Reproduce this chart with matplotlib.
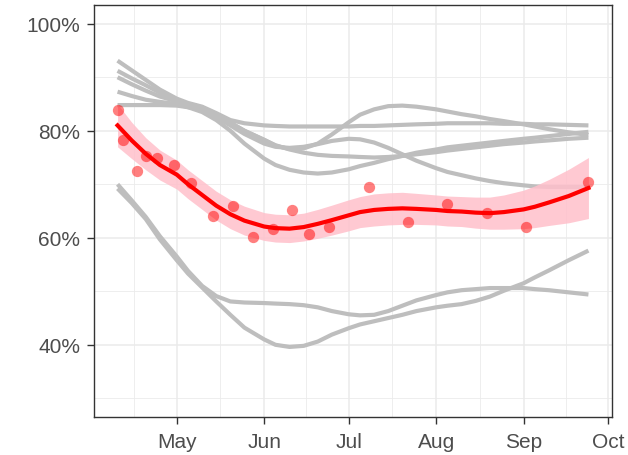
import numpy as np
import pandas as pd
import matplotlib
matplotlib.use("Agg")
import matplotlib.pyplot as plt
import matplotlib.dates as mdates
from matplotlib.ticker import FuncFormatter, FixedLocator

plt.rcParams['font.family'] = ['Liberation Sans', 'DejaVu Sans']

# observed share, red points
pt_dates = ["2020-04-10", "2020-04-12", "2020-04-17", "2020-04-20", "2020-04-24",
            "2020-04-30", "2020-05-06", "2020-05-14", "2020-05-21", "2020-05-28",
            "2020-06-04", "2020-06-11", "2020-06-17", "2020-06-24", "2020-07-08",
            "2020-07-22", "2020-08-05", "2020-08-19", "2020-09-02", "2020-09-24"]
pt_vals = [83.9, 78.3, 72.5, 75.3, 74.9, 73.6, 70.3, 64.1, 66.0, 60.1,
           61.7, 65.2, 60.7, 62.0, 69.4, 62.9, 66.3, 64.7, 62.0, 70.4]

# dates at which the smooth curves were read
curve_dates = ["2020-04-10", "2020-04-15", "2020-04-20", "2020-04-25", "2020-05-01",
               "2020-05-05", "2020-05-10", "2020-05-15", "2020-05-20", "2020-05-25",
               "2020-06-01", "2020-06-05", "2020-06-10", "2020-06-15", "2020-06-20",
               "2020-06-25", "2020-07-01", "2020-07-05", "2020-07-10", "2020-07-15",
               "2020-07-20", "2020-07-25", "2020-08-01", "2020-08-05", "2020-08-10",
               "2020-08-15", "2020-08-20", "2020-08-25", "2020-09-01", "2020-09-05",
               "2020-09-10", "2020-09-17", "2020-09-24"]

red_fit = [81.0, 78.2, 75.7, 73.6, 71.8, 70.0, 68.0, 66.0, 64.4, 63.2,
           62.1, 61.8, 61.7, 62.0, 62.6, 63.3, 64.2, 64.8, 65.2, 65.4,
           65.5, 65.4, 65.2, 65.0, 64.9, 64.7, 64.6, 64.8, 65.3, 65.8,
           66.6, 67.8, 69.3]
red_low = [77.0, 74.8, 72.7, 70.8, 69.1, 67.3, 65.3, 63.3, 61.7, 60.5,
           59.5, 59.2, 59.1, 59.4, 59.9, 60.5, 61.3, 61.9, 62.2, 62.4,
           62.5, 62.5, 62.4, 62.2, 62.1, 61.8, 61.6, 61.6, 61.7, 61.9,
           62.3, 62.8, 63.6]
red_high = [85.0, 81.6, 78.7, 76.4, 74.5, 72.7, 70.7, 68.7, 67.1, 65.9,
            64.7, 64.4, 64.3, 64.6, 65.3, 66.1, 67.1, 67.7, 68.2, 68.4,
            68.5, 68.3, 68.0, 67.8, 67.7, 67.6, 67.6, 68.0, 68.9, 69.7,
            70.9, 72.8, 75.0]

# other groups, grey curves
grey_1 = [93.1, 91.3, 89.5, 87.7, 86.0, 85.2, 84.5, 83.3, 82.0, 81.4,
          81.0, 80.9, 80.8, 80.8, 80.8, 80.8, 80.8, 80.9, 80.9, 81.0,
          81.1, 81.2, 81.3, 81.4, 81.4, 81.4, 81.4, 81.3, 81.3, 81.2,
          81.2, 81.1, 81.0]
grey_2 = [91.2, 89.8, 88.5, 87.1, 85.8, 85.0, 84.3, 83.0, 81.5, 80.0,
          78.3, 77.2, 76.6, 76.7, 77.6, 79.3, 81.6, 83.0, 84.0, 84.6,
          84.7, 84.5, 84.0, 83.6, 83.1, 82.7, 82.2, 81.8, 81.2, 80.8,
          80.3, 79.7, 79.2]
grey_3 = [90.0, 88.7, 87.5, 86.4, 85.5, 84.8, 84.0, 82.6, 81.0, 79.4,
          77.6, 77.0, 76.8, 77.0, 77.5, 78.1, 78.5, 78.4, 77.8, 76.8,
          75.6, 74.4, 73.0, 72.3, 71.7, 71.1, 70.6, 70.2, 69.8, 69.6,
          69.5, 69.5, 69.5]
grey_4 = [87.3, 86.5, 85.8, 85.4, 85.0, 84.4, 83.5, 82.0, 80.0, 77.6,
          74.8, 73.6, 72.7, 72.2, 72.0, 72.2, 72.8, 73.4, 74.0, 74.7,
          75.3, 75.9, 76.5, 76.9, 77.2, 77.5, 77.8, 78.1, 78.5, 78.7,
          79.0, 79.4, 79.8]
grey_5 = [84.8, 84.8, 84.8, 84.8, 84.7, 84.4, 84.0, 83.0, 81.5, 80.0,
          78.3, 77.3, 76.5, 75.9, 75.5, 75.3, 75.2, 75.1, 75.0, 75.1,
          75.3, 75.6, 76.0, 76.3, 76.6, 76.9, 77.2, 77.5, 77.8, 78.0,
          78.2, 78.5, 78.7]
grey_6 = [70.0, 67.0, 63.9, 60.3, 56.5, 53.8, 51.0, 49.1, 48.1, 47.9,
          47.8, 47.7, 47.6, 47.4, 47.0, 46.3, 45.7, 45.5, 45.6, 46.3,
          47.3, 48.3, 49.3, 49.8, 50.2, 50.4, 50.6, 50.6, 50.6, 50.4,
          50.2, 49.8, 49.4]
grey_7 = [69.2, 66.5, 63.5, 59.7, 55.8, 53.3, 50.7, 48.1, 45.6, 43.2,
          41.0, 40.0, 39.6, 39.8, 40.6, 41.9, 43.1, 43.8, 44.4, 45.0,
          45.6, 46.3, 47.0, 47.3, 47.6, 48.2, 49.0, 50.1, 51.5, 52.6,
          53.9, 55.8, 57.6]

pt_x = pd.to_datetime(pt_dates)
cx = pd.to_datetime(curve_dates)

fig = plt.figure(figsize=(6.28, 4.56), dpi=100)
ax = fig.add_axes([0.1497, 0.0833, 0.8248, 0.9035])

for g in [grey_1, grey_2, grey_3, grey_4, grey_5, grey_6, grey_7]:
    ax.plot(cx, g, color="#BEBEBE", lw=3.0, solid_capstyle="butt",
            solid_joinstyle="round", zorder=2)

ax.fill_between(cx, red_low, red_high, color="#FFC0CB", alpha=0.85, lw=0, zorder=3)
ax.plot(cx, red_fit, color="#FF0000", lw=3.0, solid_joinstyle="round", zorder=4)
ax.scatter(pt_x, pt_vals, s=66, color="#FF0000", alpha=0.5, lw=0, zorder=5)

ax.margins(x=0.05)
ax.set_ylim(26.5, 103.5)

months = pd.to_datetime(["2020-04-01", "2020-05-01", "2020-06-01", "2020-07-01",
                         "2020-08-01", "2020-09-01", "2020-10-01"])
mnum = mdates.date2num(months)
ax.xaxis.set_major_locator(FixedLocator(mnum[1:]))
ax.xaxis.set_major_formatter(mdates.DateFormatter("%b"))
ax.xaxis.set_minor_locator(FixedLocator((mnum[:-1] + mnum[1:]) / 2))
ax.yaxis.set_major_locator(FixedLocator([40, 60, 80, 100]))
ax.yaxis.set_minor_locator(FixedLocator([30, 50, 70, 90]))
ax.yaxis.set_major_formatter(FuncFormatter(lambda v, p: "%d%%" % v))

ax.grid(which="major", color="#EBEBEB", lw=1.1, zorder=0)
ax.grid(which="minor", color="#EBEBEB", lw=0.6, zorder=0)
ax.set_axisbelow(True)

for s in ax.spines.values():
    s.set_color("#333333")
    s.set_linewidth(1.0)

ax.tick_params(which="major", length=5, width=1.0, color="#333333",
               labelcolor="#4D4D4D", labelsize=15)
ax.tick_params(axis="x", which="major", pad=6)
ax.tick_params(axis="y", which="major", pad=5)
ax.tick_params(which="minor", length=0)

fig.savefig("out.png", dpi=100, facecolor="white")
